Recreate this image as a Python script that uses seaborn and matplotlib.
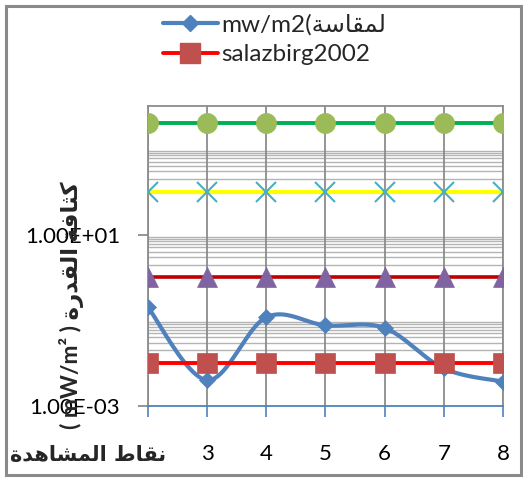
import numpy as np
import pandas as pd
import matplotlib
matplotlib.use("Agg")
import matplotlib.pyplot as plt
from matplotlib.lines import Line2D
from matplotlib.patches import Rectangle
import seaborn as sns

# ---------------- data ----------------
points = [2, 3, 4, 5, 6, 7, 8]
tick_labels = ["2", "3", "4", "5", "6", "7", "8"]
measured = [0.2, 0.004, 0.118, 0.076, 0.066, 0.0075, 0.0037]
salazbirg = [0.01, 0.01, 0.01, 0.01, 0.01, 0.01, 0.01]
level_triangle = [1.0, 1.0, 1.0, 1.0, 1.0, 1.0, 1.0]
level_cross = [100.0, 100.0, 100.0, 100.0, 100.0, 100.0, 100.0]
level_circle = [4000.0, 4000.0, 4000.0, 4000.0, 4000.0, 4000.0, 4000.0]

# Arabic text in visual (pre-shaped) order
measured_label = "mw/m2(" + "\uFE94\uFEB3\uFE8E\uFED8\uFEE4\uFEDF"          # لمقاسة(mw/m2
salaz_label = "salazbirg2002"
x_title = "\uFE93\uFEAA\uFEEB\uFE8E\uFEB8\uFEE4\uFEDF\uFE8D" + " " + "\uFEC1\uFE8E\uFED8\uFEE7"  # نقاط المشاهدة
y_title = "( mW/m\u00b2 ) " + "\uFE93\uFEAD\uFEAA\uFED8\uFEDF\uFE8D" + " " + "\uFE94\uFED3\uFE8E\uFE9C\uFEDB"  # كثافة القدرة ( mW/m² )
y_ticks = [1e-3, 1e1]
y_tick_labels = ["1.00E-03", "1.00E+01"]

# ---------------- style ----------------
sns.set_theme(style="white")
plt.rcParams["font.family"] = ["Lato", "DejaVu Sans"]

W, H = 523, 478
fig = plt.figure(figsize=(W / 100, H / 100), dpi=100)
ax = fig.add_axes([148 / W, (H - 406) / H, (503 - 148) / W, (406 - 106) / H])
ax.set_yscale("log")
ax.set_ylim(1e-3, 1e4)
ax.set_xlim(2, 8)

# horizontal light grid lines (k * 10^n for even n)
for n in (-2, 0, 2):
    for k in range(1, 10):
        ax.axhline(k * 10.0 ** n, color="#b4b4b4", lw=1.0, zorder=0.5)
for xv in points:
    ax.axvline(xv, color="#8c8c8c", lw=1.3, zorder=0.6)


def smooth(xs, ys, n=24):
    P = np.column_stack([np.asarray(xs, float), np.log10(np.asarray(ys, float))])
    out = []
    for i in range(len(P) - 1):
        p0 = P[i - 1] if i > 0 else P[i]
        p3 = P[i + 2] if i + 2 < len(P) else P[i + 1]
        p1, p2 = P[i], P[i + 1]
        c1 = p1 + (p2 - p0) / 6.0
        c2 = p2 - (p3 - p1) / 6.0
        t = np.linspace(0, 1, n)[:, None]
        seg = (1 - t) ** 3 * p1 + 3 * (1 - t) ** 2 * t * c1 + 3 * (1 - t) * t ** 2 * c2 + t ** 3 * p2
        out.append(seg if i == 0 else seg[1:])
    S = np.vstack(out)
    return S[:, 0], 10 ** S[:, 1]


sx, sy = smooth(points, measured)
sns.lineplot(x=sx, y=sy, sort=False, estimator=None, color="#4F81BD", lw=3.0, ax=ax, zorder=3)
sns.lineplot(x=points, y=measured, estimator=None, ax=ax, color="#4F81BD", linestyle="",
             marker="D", markersize=8.5, markerfacecolor="#4F81BD", markeredgecolor="#4F81BD",
             markeredgewidth=0.5, zorder=3.5)

sns.lineplot(x=points, y=salazbirg, estimator=None, ax=ax, color="#FF0000", lw=2.8,
             marker="s", markersize=14, markerfacecolor="#C0504D", markeredgecolor="#C0504D",
             markeredgewidth=0.5, zorder=4)
sns.lineplot(x=points, y=level_triangle, estimator=None, ax=ax, color="#C00000", lw=2.6,
             marker="^", markersize=14.5, markerfacecolor="#8064A2", markeredgecolor="#8064A2",
             markeredgewidth=0.5, zorder=4)
sns.lineplot(x=points, y=level_cross, estimator=None, ax=ax, color="#FFFF00", lw=3.0,
             marker="x", markersize=14, markerfacecolor="#4BACC6", markeredgecolor="#4BACC6",
             markeredgewidth=1.5, zorder=4)
sns.lineplot(x=points, y=level_circle, estimator=None, ax=ax, color="#00B050", lw=2.8,
             marker="o", markersize=14.5, markerfacecolor="#9BBB59", markeredgecolor="#9BBB59",
             markeredgewidth=0.5, zorder=4)

# axes / ticks
ax.set_yticks(y_ticks)
ax.set_yticklabels(y_tick_labels)
ax.yaxis.set_minor_locator(matplotlib.ticker.NullLocator())
ax.set_xticks(points)
ax.set_xticklabels(tick_labels)
ax.get_xticklabels()[0].set_visible(False)   # hidden behind the axis title in the reference
ax.tick_params(axis="y", which="major", left=True, length=7, width=1.3, color="#8c8c8c",
               labelsize=16, pad=13, labelcolor="black")
ax.tick_params(axis="x", which="major", bottom=True, length=8, width=1.2, color="#4F81BD",
               labelsize=16, pad=19, labelcolor="black")
ax.set_xlabel("")
ax.set_ylabel("")
for side in ("left", "top", "right"):
    ax.spines[side].set_color("#8c8c8c")
    ax.spines[side].set_linewidth(1.3)
ax.spines["bottom"].set_color("#4F81BD")
ax.spines["bottom"].set_linewidth(1.3)
ax.spines["bottom"].set_zorder(5)

# titles
fig.text(72 / W, 1 - 305 / H, y_title, rotation=90, ha="center", va="center",
         fontsize=16.5, fontweight="bold", family=["Lato", "DejaVu Sans"])
fig.text(88 / W, 1 - 455 / H, x_title, ha="center", va="center", fontsize=15,
         fontweight="bold", family=["DejaVu Sans"],
         bbox=dict(facecolor="white", edgecolor="none", pad=1.5), zorder=10)

# legend (first two series only)
handles = [
    Line2D([], [], color="#4F81BD", lw=3.0, marker="D", markersize=8.5,
           markerfacecolor="#4F81BD", markeredgecolor="#4F81BD"),
    Line2D([], [], color="#FF0000", lw=2.8, marker="s", markersize=14,
           markerfacecolor="#C0504D", markeredgecolor="#C0504D"),
]
fig.legend(handles, [measured_label, salaz_label], loc="upper left",
           bbox_to_anchor=(163 / W, 1 - 14 / H), frameon=False, fontsize=17.5,
           handlelength=2.25, handletextpad=0.15, labelspacing=0.35, borderpad=0,
           borderaxespad=0)

# figure border
fig.patches.append(Rectangle((6 / W, 3 / H), (521 - 6) / W, (472 - 3) / H, transform=fig.transFigure,
                             fill=False, edgecolor="#8a8a8a", lw=2.2, zorder=20))

fig.savefig("out.png", dpi=100)
